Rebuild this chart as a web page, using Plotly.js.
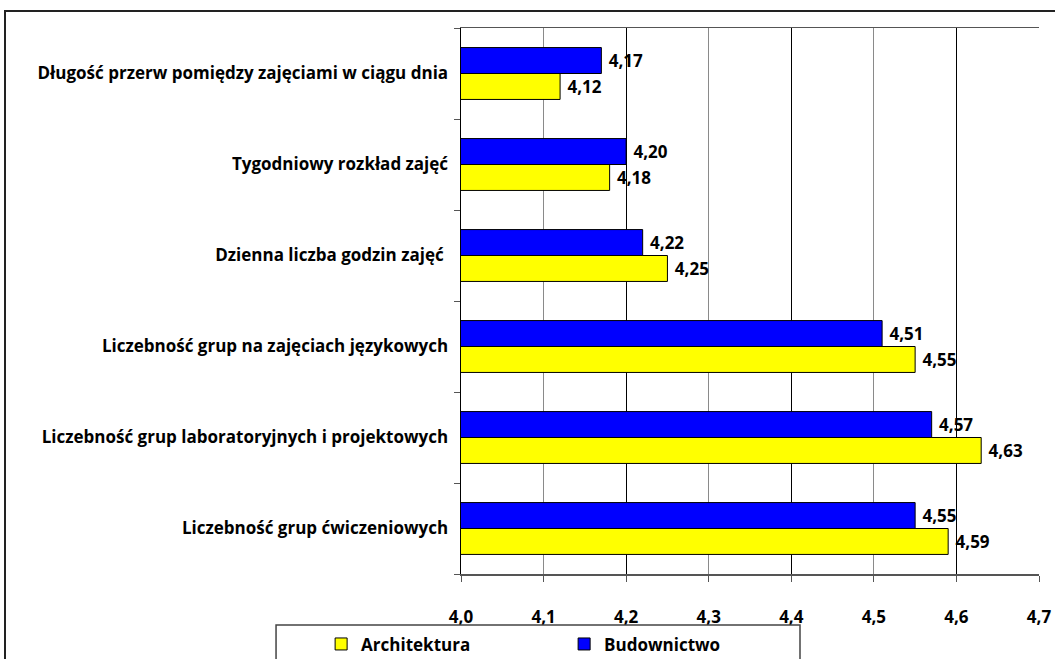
<!DOCTYPE html>
<html>
<head>
<meta charset="utf-8">
<script src="https://cdn.plot.ly/plotly-3.0.1.min.js"></script>
<style>
  html, body { margin: 0; padding: 0; background: #fff; overflow: hidden; }
  #frame { position: absolute; left: 4px; top: 10px; width: 2000px; height: 2000px;
           border-left: 2px solid #222; border-top: 2px solid #222; }
  #chart { position: absolute; left: 0; top: 0; width: 1055px; height: 659px; }
</style>
</head>
<body>
<div id="frame"></div>
<div id="chart"></div>
<script>
const categories = [
  "Długość przerw pomiędzy zajęciami w ciągu dnia",
  "Tygodniowy rozkład zajęć",
  "Dzienna liczba godzin zajęć ",
  "Liczebność grup na zajęciach językowych",
  "Liczebność grup laboratoryjnych i projektowych",
  "Liczebność grup ćwiczeniowych"
];
const architektura = [4.12, 4.18, 4.25, 4.55, 4.63, 4.59];
const budownictwo  = [4.17, 4.20, 4.22, 4.51, 4.57, 4.55];
const seriesNames = ["Architektura", "Budownictwo"];
const xTicks = [4.0, 4.1, 4.2, 4.3, 4.4, 4.5, 4.6, 4.7];

const FONT = "'Open Sans', Lato, sans-serif";
const FS = 17;

const traces = [
  {
    type: "bar", orientation: "h", name: seriesNames[0],
    y: categories, x: architektura,
    marker: { color: "#FFFF00", line: { color: "#000", width: 1 } },
    texttemplate: " %{x:.2f}", textposition: "outside", cliponaxis: false,
    textfont: { family: FONT, size: FS, color: "#000", weight: "bold" }
  },
  {
    type: "bar", orientation: "h", name: seriesNames[1],
    y: categories, x: budownictwo,
    marker: { color: "#0000FF", line: { color: "#000", width: 1 } },
    texttemplate: " %{x:.2f}", textposition: "outside", cliponaxis: false,
    textfont: { family: FONT, size: FS, color: "#000", weight: "bold" }
  },
  { type: "scatter", x: [], y: [], xaxis: "x2", yaxis: "y", showlegend: false, hoverinfo: "skip" }
];

const layout = {
  width: 1055, height: 659,
  paper_bgcolor: "rgba(0,0,0,0)", plot_bgcolor: "rgba(0,0,0,0)",
  margin: { l: 461, r: 16, t: 28, b: 85, autoexpand: false },
  separators: ", ",
  barmode: "group", bargap: 0.43, bargroupgap: 0,
  font: { family: FONT, size: FS, color: "#000" },
  xaxis: {
    range: [4.0, 4.7], tickvals: xTicks, tickformat: ".1f",
    showgrid: true, gridcolor: "#8a8a8a", gridwidth: 1,
    showline: true, linecolor: "#555", linewidth: 1.5, mirror: true,
    ticks: "outside", ticklen: 6, tickcolor: "#555",
    ticklabelstandoff: 21,
    tickfont: { family: FONT, size: FS, color: "#000", weight: "bold" },
    zeroline: false, fixedrange: true
  },
  xaxis2: {
    overlaying: "x", matches: "x", range: [4.0, 4.7], tickvals: [4.2, 4.4, 4.6],
    showgrid: true, gridcolor: "#000", gridwidth: 1,
    showticklabels: false, ticks: "", showline: false, zeroline: false
  },
  yaxis: {
    type: "category", categoryorder: "array", categoryarray: categories.slice().reverse(),
    showline: true, linecolor: "#000", linewidth: 1.5,
    ticks: "outside", tickson: "boundaries", ticklen: 6, tickcolor: "#555",
    ticklabelstandoff: 8,
    tickfont: { family: FONT, size: FS, color: "#000", weight: "bold" },
    showgrid: false, zeroline: false, fixedrange: true
  },
  showlegend: true,
  legend: {
    orientation: "h", x: -0.242, xanchor: "left", y: -0.096, yanchor: "top",
    font: { family: FONT, size: FS, color: "#000", weight: "bold" },
    bgcolor: "rgba(0,0,0,0)", borderwidth: 0,
    entrywidth: 198, entrywidthmode: "pixels", traceorder: "normal"
  },
  shapes: [
    { type: "rect", xref: "paper", yref: "paper", x0: -0.32, x1: 0.5865, y0: -0.0934, y1: -0.25,
      line: { color: "#444", width: 1.5 }, fillcolor: "rgba(0,0,0,0)", layer: "above" }
  ]
};

Plotly.newPlot("chart", traces, layout, { displayModeBar: false, staticPlot: true });
</script>
</body>
</html>
